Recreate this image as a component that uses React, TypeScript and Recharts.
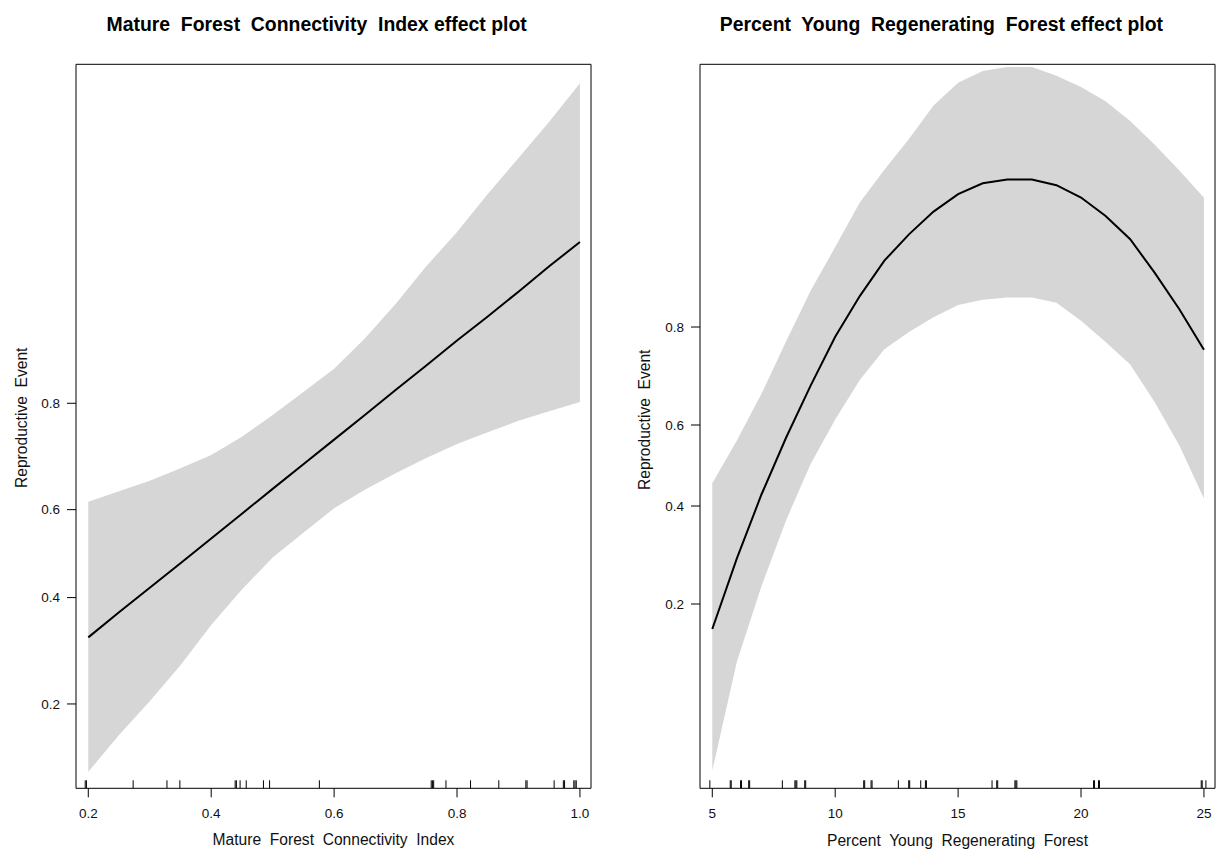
import React from 'react';
import { ComposedChart, Area, Line, Scatter, XAxis, YAxis } from 'recharts';

// ---------- Left panel: Mature Forest Connectivity Index ----------
const mfciX = [0.2, 0.25, 0.3, 0.35, 0.4, 0.45, 0.5, 0.55, 0.6, 0.65, 0.7, 0.75, 0.8, 0.85, 0.9, 0.95, 1.0];
const mfciFit = [0.316, 0.368, 0.422, 0.478, 0.535, 0.591, 0.645, 0.695, 0.741, 0.782, 0.819, 0.85, 0.877, 0.899, 0.918, 0.934, 0.9465];
const mfciLower = [0.118, 0.158, 0.204, 0.263, 0.341, 0.418, 0.491, 0.548, 0.603, 0.643, 0.677, 0.707, 0.733, 0.754, 0.773, 0.788, 0.802];
const mfciUpper = [0.6175, 0.64, 0.662, 0.687, 0.713, 0.746, 0.782, 0.816, 0.846, 0.879, 0.909, 0.934, 0.951, 0.965, 0.9746, 0.9817, 0.9871];
const mfciRug = [0.195, 0.197, 0.273, 0.328, 0.349, 0.439, 0.441, 0.447, 0.457, 0.485, 0.495, 0.576, 0.758, 0.76, 0.762, 0.782, 0.822, 0.868, 0.912, 0.914, 0.958, 0.973, 0.975, 0.99, 0.992, 0.994];
const mfciXTicks = [0.2, 0.4, 0.6, 0.8, 1.0];

// ---------- Right panel: Percent Young Regenerating Forest ----------
const ypfX = [5, 6, 7, 8, 9, 10, 11, 12, 13, 14, 15, 16, 17, 18, 19, 20, 21, 22, 23, 24, 25];
const ypfFit = [0.163, 0.283, 0.428, 0.569, 0.69, 0.784, 0.845, 0.886, 0.91, 0.927, 0.938, 0.944, 0.946, 0.946, 0.943, 0.936, 0.924, 0.906, 0.873, 0.827, 0.761];
const ypfLower = [0.045, 0.123, 0.23, 0.366, 0.504, 0.613, 0.702, 0.762, 0.792, 0.815, 0.833, 0.84, 0.843, 0.843, 0.836, 0.81, 0.775, 0.733, 0.653, 0.55, 0.418];
const ypfUpper = [0.456, 0.562, 0.672, 0.776, 0.852, 0.899, 0.933, 0.9507, 0.9633, 0.9735, 0.9788, 0.9811, 0.9818, 0.9818, 0.9802, 0.9779, 0.9746, 0.9692, 0.9612, 0.9504, 0.9358];
const ypfRug = [4.9, 5.73, 5.77, 6.15, 6.19, 6.48, 6.52, 7.85, 8.36, 8.4, 8.44, 8.76, 8.8, 11.16, 11.2, 11.46, 11.5, 12.57, 12.99, 13.03, 13.48, 13.67, 13.71, 16.38, 16.57, 16.61, 17.31, 17.35, 17.39, 20.51, 20.55, 20.71, 20.75, 24.89, 24.93, 25.08];
const ypfXTicks = [5, 10, 15, 20, 25];

// Shared y-axis (probability on a logit scale)
const yTickLabels = [0.2, 0.4, 0.6, 0.8];

const FONT = '"Liberation Sans", Arial, Helvetica, sans-serif';

const logit = (p: number) => Math.log(p / (1 - p));
const expit = (v: number) => 1 / (1 + Math.exp(-v));

function buildRows(xs: number[], fit: number[], lo: number[], hi: number[]) {
  return xs.map((x, i) => ({ x, fit: logit(fit[i]), band: [logit(lo[i]), logit(hi[i])] }));
}

const RugMark = (props: any) => {
  const { cx, cy } = props;
  if (cx == null || cy == null || isNaN(cx) || isNaN(cy)) return <g />;
  return <line x1={cx} x2={cx} y1={cy} y2={cy - 8} stroke="#000" strokeWidth={1} />;
};

interface PanelProps {
  left: number;
  width: number;
  marginLeft: number;
  marginRight: number;
  rightAxisWidth: number;
  rows: any[];
  rug: number[];
  xDomain: [number, number];
  xTicks: number[];
  xFmt: (v: number) => string;
  yDomain: [number, number];
}

function Panel(p: PanelProps) {
  const yTicks = yTickLabels.map(logit);
  const rugRows = p.rug.map((x) => ({ x, y: p.yDomain[0] }));
  const axisStroke = { stroke: '#000', strokeWidth: 1 };
  const tickStyle = { fill: '#111', fontSize: 13.5, fontFamily: FONT };
  return (
    <div style={{ position: 'absolute', left: p.left, top: 0 }}>
      <ComposedChart
        width={p.width}
        height={851}
        data={p.rows}
        margin={{ top: 54.3, right: p.marginRight, bottom: 22.7, left: p.marginLeft }}
      >
        <XAxis
          xAxisId="b"
          dataKey="x"
          type="number"
          orientation="bottom"
          domain={p.xDomain}
          allowDataOverflow
          ticks={p.xTicks}
          interval={0}
          tickFormatter={p.xFmt}
          height={40}
          tickSize={9}
          tickMargin={11}
          axisLine={axisStroke}
          tickLine={axisStroke}
          tick={tickStyle}
        />
        <XAxis
          xAxisId="t"
          dataKey="x"
          type="number"
          orientation="top"
          domain={p.xDomain}
          allowDataOverflow
          ticks={p.xTicks}
          interval={0}
          height={10}
          tickSize={9}
          axisLine={axisStroke}
          tickLine={axisStroke}
          tick={false}
        />
        <YAxis
          yAxisId="l"
          type="number"
          orientation="left"
          domain={p.yDomain}
          allowDataOverflow
          ticks={yTicks}
          interval={0}
          tickFormatter={(v: number) => expit(v).toFixed(1)}
          width={60}
          tickSize={9}
          tickMargin={7}
          axisLine={axisStroke}
          tickLine={axisStroke}
          tick={tickStyle}
        />
        <YAxis
          yAxisId="r"
          type="number"
          orientation="right"
          domain={p.yDomain}
          allowDataOverflow
          ticks={yTicks}
          interval={0}
          width={p.rightAxisWidth}
          tickSize={9}
          axisLine={axisStroke}
          tickLine={axisStroke}
          tick={false}
        />
        <Area
          xAxisId="b"
          yAxisId="l"
          dataKey="band"
          type="linear"
          fill="#d6d6d6"
          fillOpacity={1}
          stroke="none"
          isAnimationActive={false}
        />
        <Line
          xAxisId="b"
          yAxisId="l"
          dataKey="fit"
          type="linear"
          stroke="#000"
          strokeWidth={2}
          dot={false}
          isAnimationActive={false}
        />
        <Scatter
          xAxisId="b"
          yAxisId="l"
          data={rugRows}
          dataKey="y"
          shape={RugMark}
          isAnimationActive={false}
        />
      </ComposedChart>
    </div>
  );
}

export default function App() {
  const leftRows = buildRows(mfciX, mfciFit, mfciLower, mfciUpper);
  const rightRows = buildRows(ypfX, ypfFit, ypfLower, ypfUpper);
  const titleStyle: any = { fontFamily: FONT, fontSize: 19.4, fontWeight: 'bold', whiteSpace: 'pre', fill: '#000' };
  const labStyle: any = { fontFamily: FONT, fontSize: 15.6, whiteSpace: 'pre', fill: '#111' };
  return (
    <div
      style={{
        position: 'absolute',
        left: 0,
        top: 0,
        width: 1217,
        height: 851,
        overflow: 'hidden',
        background: '#fff',
        fontFamily: FONT,
      }}
    >
      <Panel
        left={0}
        width={609}
        marginLeft={16}
        marginRight={6}
        rightAxisWidth={12}
        rows={leftRows}
        rug={mfciRug}
        xDomain={[0.18, 1.018]}
        xTicks={mfciXTicks}
        xFmt={(v) => v.toFixed(1)}
        yDomain={[-2.164, 4.512]}
      />
      <Panel
        left={608}
        width={620}
        marginLeft={32}
        marginRight={1}
        rightAxisWidth={12}
        rows={rightRows}
        rug={ypfRug}
        xDomain={[4.5, 25.45]}
        xTicks={ypfXTicks}
        xFmt={(v) => String(v)}
        yDomain={[-3.231, 4.016]}
      />
      <svg
        width={1217}
        height={851}
        style={{ position: 'absolute', left: 0, top: 0, pointerEvents: 'none' }}
      >
        <text x={316.6} y={31} textAnchor="middle" style={titleStyle}>
          {'Mature  Forest  Connectivity  Index effect plot'}
        </text>
        <text x={941.4} y={31} textAnchor="middle" style={titleStyle}>
          {'Percent  Young  Regenerating  Forest effect plot'}
        </text>
        <text x={333.5} y={845} textAnchor="middle" style={labStyle}>
          {'Mature  Forest  Connectivity  Index'}
        </text>
        <text x={957.5} y={846} textAnchor="middle" style={labStyle}>
          {'Percent  Young  Regenerating  Forest'}
        </text>
        <text x={26.7} y={488} textAnchor="start" transform="rotate(-90 26.7 488)" style={labStyle}>
          {'Reproductive  Event'}
        </text>
        <text x={650} y={490} textAnchor="start" transform="rotate(-90 650 490)" style={labStyle}>
          {'Reproductive  Event'}
        </text>
      </svg>
    </div>
  );
}
